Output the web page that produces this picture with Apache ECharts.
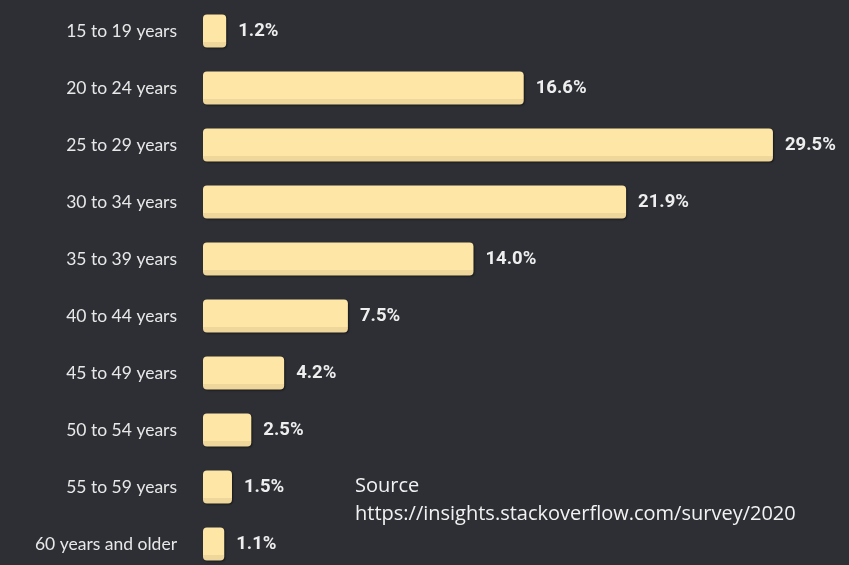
<!DOCTYPE html>
<html>
<head>
<meta charset="utf-8">
<script src="https://cdn.jsdelivr.net/npm/echarts@6/dist/echarts.min.js"></script>
<style>
html,body{margin:0;padding:0;background:#2d2f34;overflow:hidden;}
#chart{width:849px;height:580px;}
</style>
</head>
<body>
<div id="chart"></div>
<script>
const categories = ["15 to 19 years","20 to 24 years","25 to 29 years","30 to 34 years","35 to 39 years","40 to 44 years","45 to 49 years","50 to 54 years","55 to 59 years","60 years and older"];
const values = [1.2, 16.6, 29.5, 21.9, 14.0, 7.5, 4.2, 2.5, 1.5, 1.1];
const sourceLines = ["Source", "https://insights.stackoverflow.com/survey/2020"];

const chart = echarts.init(document.getElementById('chart'));
chart.setOption({
  backgroundColor: '#2d2f34',
  animation: false,
  grid: { left: 203, top: 2.5, right: 66.4, bottom: 7.5, containLabel: false },
  xAxis: { type: 'value', min: 0, max: 30, show: false },
  yAxis: {
    type: 'category', data: categories, inverse: true,
    axisLine: { show: false }, axisTick: { show: false }, splitLine: { show: false },
    axisLabel: { margin: 26, color: '#e8e8e8', fontSize: 17.5, fontFamily: 'Lato, "Noto Sans", sans-serif' }
  },
  series: [{
    type: 'bar', data: values, barWidth: 33,
    itemStyle: {
      borderRadius: 4,
      color: new echarts.graphic.LinearGradient(0, 0, 0, 1, [
        { offset: 0, color: '#fee6a6' },
        { offset: 0.84, color: '#fee6a6' },
        { offset: 0.84, color: '#efd69a' },
        { offset: 1, color: '#efd69a' }
      ]),
      shadowColor: 'rgba(0,0,0,0.5)', shadowBlur: 2, shadowOffsetX: 1, shadowOffsetY: 1
    },
    label: {
      show: true, position: 'right', distance: 12,
      formatter: p => p.value.toFixed(1) + '%',
      color: '#eeeeee', fontSize: 18.5, fontWeight: 'bold', fontFamily: 'Roboto, sans-serif'
    }
  }],
  graphic: [{
    type: 'text', left: 355, top: 472,
    style: { text: sourceLines.join('\n'), fill: '#f2f2f2', fontSize: 20, lineHeight: 28, fontFamily: '"Open Sans", "Noto Sans", sans-serif' }
  }]
});
</script>
</body>
</html>
